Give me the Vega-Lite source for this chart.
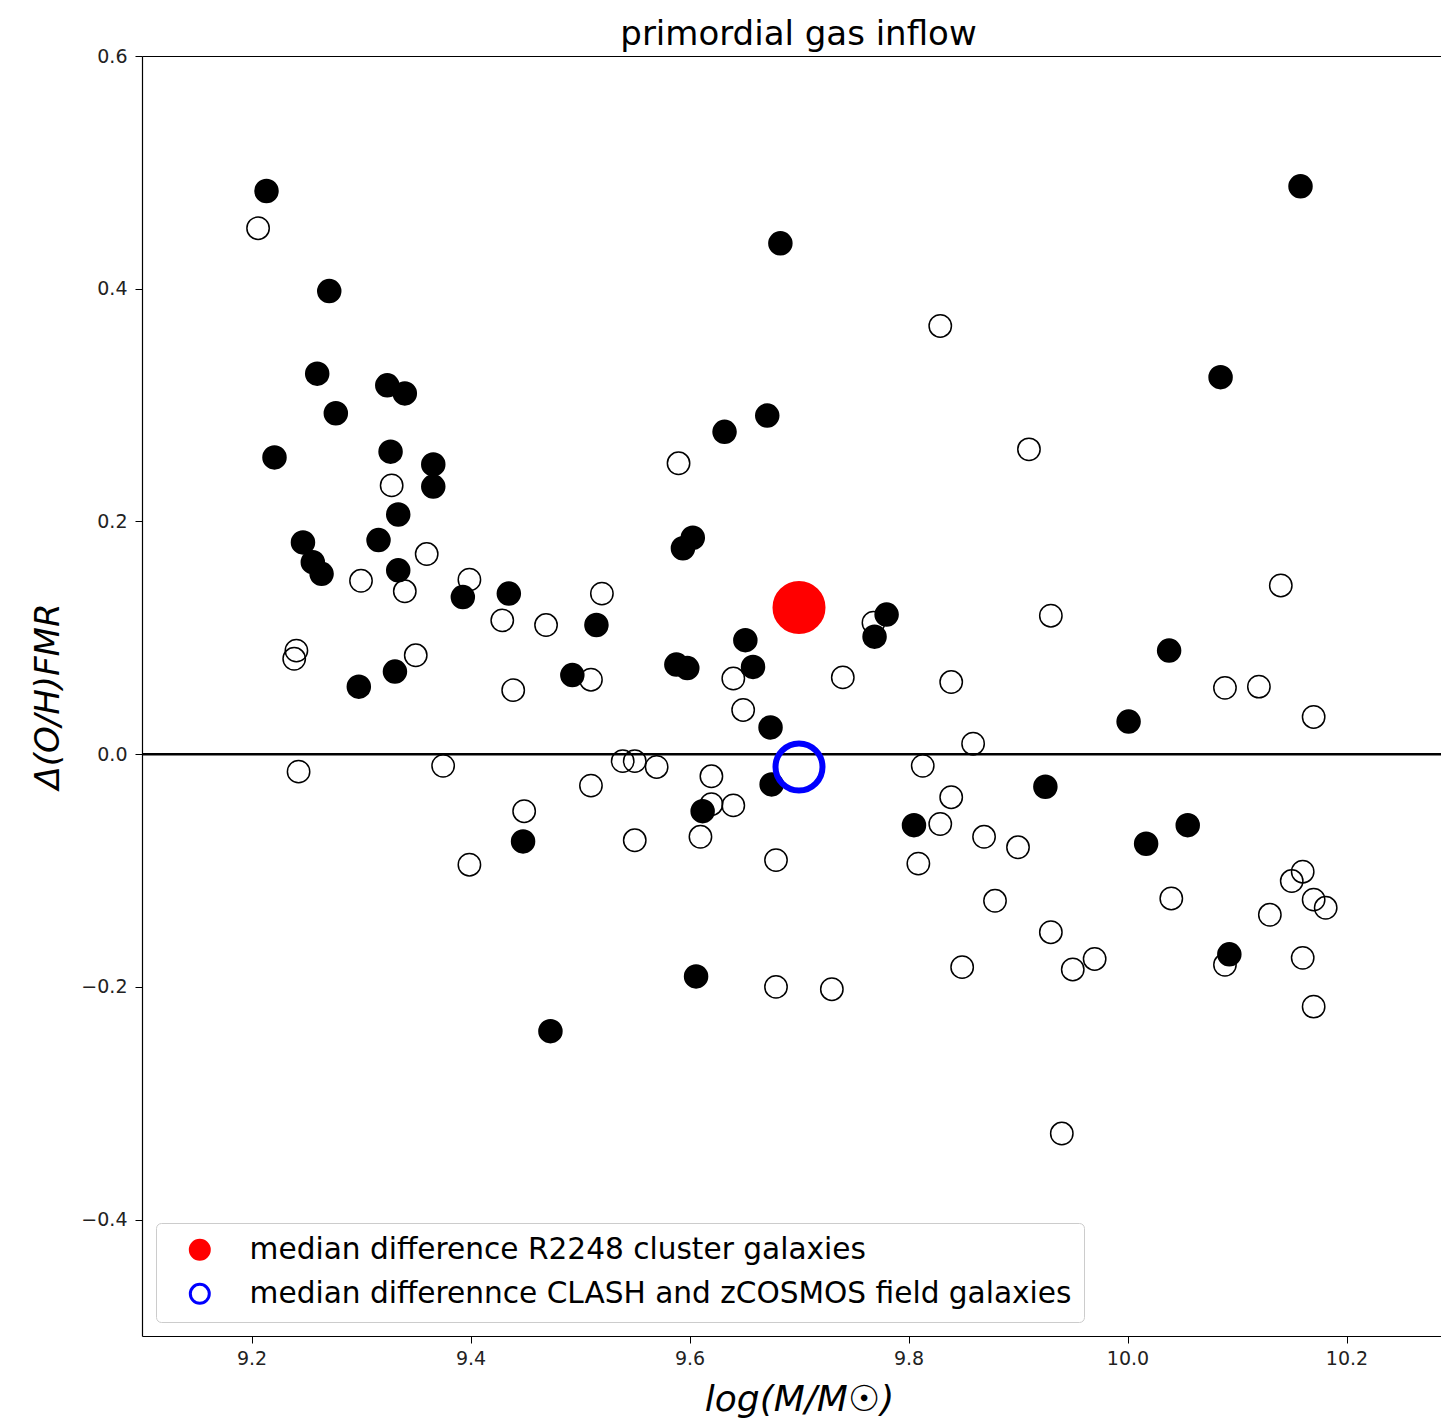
{
  "$schema": "https://vega.github.io/schema/vega-lite/v6.json",
  "autosize": {"type": "none"},
  "width": 1299,
  "height": 1280,
  "padding": {"left": 142, "top": 56, "right": 0, "bottom": 90},
  "background": "white",
  "config": {
    "font": "DejaVu Sans",
    "view": {"stroke": null},
    "axis": {
      "grid": false,
      "domainColor": "black",
      "domainWidth": 1.2,
      "tickColor": "black",
      "tickWidth": 1,
      "tickSize": 7,
      "labelFont": "DejaVu Sans",
      "labelFontSize": 19,
      "labelColor": "#222222",
      "titleFont": "DejaVu Sans",
      "titleColor": "black",
      "titleFontWeight": "normal",
      "titleFontStyle": "italic"
    },
    "legend": {
      "orient": "bottom-left",
      "offset": 14,
      "padding": 12,
      "strokeColor": "#cccccc",
      "strokeWidth": 1,
      "cornerRadius": 5,
      "fillColor": "white",
      "labelFont": "DejaVu Sans",
      "labelFontSize": 29.6,
      "labelColor": "black",
      "labelLimit": 2000,
      "symbolType": "circle",
      "symbolSize": 360,
      "symbolStrokeWidth": 3,
      "rowPadding": 12,
      "labelOffset": 35,
      "symbolOffset": 17
    }
  },
  "title": {
    "text": "primordial gas inflow",
    "fontSize": 34,
    "fontWeight": "normal",
    "font": "DejaVu Sans",
    "color": "black",
    "anchor": "middle",
    "dx": 7,
    "dy": 11,
    "offset": 6
  },
  "datasets": {
    "filled": [
      {"x": 9.2137, "y": 0.484}, {"x": 9.271, "y": 0.398}, {"x": 9.260, "y": 0.327}, {"x": 9.324, "y": 0.317},
      {"x": 9.340, "y": 0.310}, {"x": 9.277, "y": 0.293}, {"x": 9.221, "y": 0.255}, {"x": 9.327, "y": 0.260},
      {"x": 9.366, "y": 0.249}, {"x": 9.366, "y": 0.230}, {"x": 9.334, "y": 0.206}, {"x": 9.316, "y": 0.184},
      {"x": 9.247, "y": 0.182}, {"x": 9.256, "y": 0.165}, {"x": 9.264, "y": 0.155}, {"x": 9.334, "y": 0.158},
      {"x": 9.393, "y": 0.135}, {"x": 9.435, "y": 0.138}, {"x": 9.515, "y": 0.111}, {"x": 9.298, "y": 0.058},
      {"x": 9.331, "y": 0.071}, {"x": 9.493, "y": 0.068}, {"x": 9.588, "y": 0.077}, {"x": 9.598, "y": 0.074},
      {"x": 9.651, "y": 0.098}, {"x": 9.658, "y": 0.075}, {"x": 9.674, "y": 0.023}, {"x": 9.675, "y": -0.026},
      {"x": 9.612, "y": -0.049}, {"x": 9.448, "y": -0.075}, {"x": 9.606, "y": -0.191}, {"x": 9.473, "y": -0.238},
      {"x": 9.632, "y": 0.277}, {"x": 9.671, "y": 0.291}, {"x": 9.683, "y": 0.439}, {"x": 9.594, "y": 0.177},
      {"x": 9.603, "y": 0.186}, {"x": 9.780, "y": 0.120}, {"x": 9.769, "y": 0.101}, {"x": 9.805, "y": -0.061},
      {"x": 9.925, "y": -0.028}, {"x": 10.001, "y": 0.028}, {"x": 10.038, "y": 0.089}, {"x": 10.017, "y": -0.077},
      {"x": 10.055, "y": -0.061}, {"x": 10.093, "y": -0.172}, {"x": 10.085, "y": 0.324}, {"x": 10.158, "y": 0.488}
    ],
    "open": [
      {"x": 9.206, "y": 0.452}, {"x": 9.241, "y": 0.089}, {"x": 9.239, "y": 0.082}, {"x": 9.243, "y": -0.015},
      {"x": 9.300, "y": 0.149}, {"x": 9.328, "y": 0.231}, {"x": 9.340, "y": 0.140}, {"x": 9.360, "y": 0.172},
      {"x": 9.350, "y": 0.085}, {"x": 9.375, "y": -0.010}, {"x": 9.399, "y": 0.150}, {"x": 9.399, "y": -0.095},
      {"x": 9.429, "y": 0.115}, {"x": 9.439, "y": 0.055}, {"x": 9.449, "y": -0.049}, {"x": 9.469, "y": 0.111},
      {"x": 9.510, "y": 0.064}, {"x": 9.510, "y": -0.027}, {"x": 9.520, "y": 0.138}, {"x": 9.539, "y": -0.006},
      {"x": 9.550, "y": -0.006}, {"x": 9.550, "y": -0.074}, {"x": 9.570, "y": -0.011}, {"x": 9.590, "y": 0.250},
      {"x": 9.620, "y": -0.019}, {"x": 9.620, "y": -0.043}, {"x": 9.640, "y": -0.044}, {"x": 9.610, "y": -0.071},
      {"x": 9.640, "y": 0.065}, {"x": 9.649, "y": 0.038}, {"x": 9.679, "y": -0.091}, {"x": 9.679, "y": -0.200},
      {"x": 9.730, "y": -0.202}, {"x": 9.740, "y": 0.066}, {"x": 9.768, "y": 0.113}, {"x": 9.829, "y": 0.368},
      {"x": 9.839, "y": 0.062}, {"x": 9.813, "y": -0.010}, {"x": 9.809, "y": -0.094}, {"x": 9.829, "y": -0.060},
      {"x": 9.839, "y": -0.037}, {"x": 9.859, "y": 0.009}, {"x": 9.869, "y": -0.071}, {"x": 9.879, "y": -0.126},
      {"x": 9.849, "y": -0.183}, {"x": 9.900, "y": -0.080}, {"x": 9.910, "y": 0.262}, {"x": 9.930, "y": 0.119},
      {"x": 9.930, "y": -0.153}, {"x": 9.950, "y": -0.185}, {"x": 9.970, "y": -0.176}, {"x": 9.940, "y": -0.326},
      {"x": 10.040, "y": -0.124}, {"x": 10.089, "y": 0.057}, {"x": 10.120, "y": 0.058}, {"x": 10.089, "y": -0.181},
      {"x": 10.140, "y": 0.145}, {"x": 10.170, "y": 0.032}, {"x": 10.130, "y": -0.138}, {"x": 10.150, "y": -0.109},
      {"x": 10.160, "y": -0.101}, {"x": 10.170, "y": -0.125}, {"x": 10.181, "y": -0.132}, {"x": 10.160, "y": -0.175},
      {"x": 10.170, "y": -0.217}
    ],
    "medians": [
      {"x": 9.7, "y": 0.126, "series": "\u00a0median difference R2248 cluster galaxies"},
      {"x": 9.7, "y": -0.011, "series": "median differennce CLASH and zCOSMOS field galaxies"}
    ],
    "zero": [{"y": 0}]
  },
  "resolve": {"axis": {"x": "independent"}},
  "layer": [
    {
      "data": {"name": "zero"},
      "mark": {"type": "rule", "color": "black", "strokeWidth": 2.5},
      "encoding": {
        "y": {"field": "y", "type": "quantitative", "scale": {"domain": [-0.5, 0.6], "nice": false, "zero": false},
          "axis": {"values": [-0.4, -0.2, 0, 0.2, 0.4, 0.6], "format": ".1f", "title": "Δ(O/H)FMR", "titleFontSize": 34, "titlePadding": 15, "labelPadding": 8}}
      }
    },
    {
      "data": {"name": "open"},
      "mark": {"type": "point", "shape": "circle", "filled": false, "stroke": "black", "strokeWidth": 1.5, "size": 500, "opacity": 1},
      "encoding": {
        "x": {"field": "x", "type": "quantitative", "scale": {"domain": [9.1, 10.2863], "nice": false, "zero": false},
          "axis": {"orient": "bottom", "values": [9.2, 9.4, 9.6, 9.8, 10.0, 10.2], "format": ".1f", "title": "log(M/M☉)", "titleFontSize": 36, "titlePadding": 14, "titleX": 657, "labelPadding": 6}},
        "y": {"field": "y", "type": "quantitative"}
      }
    },
    {
      "data": {"name": "filled"},
      "mark": {"type": "circle", "color": "black", "size": 600, "opacity": 1},
      "encoding": {
        "x": {"field": "x", "type": "quantitative",
          "axis": {"orient": "top", "labels": false, "ticks": false, "title": null, "domain": true}},
        "y": {"field": "y", "type": "quantitative"}
      }
    },
    {
      "data": {"name": "medians"},
      "mark": {"type": "point", "shape": "circle", "strokeWidth": 6, "size": 2209, "opacity": 1},
      "encoding": {
        "x": {"field": "x", "type": "quantitative", "axis": null},
        "y": {"field": "y", "type": "quantitative"},
        "fill": {"field": "series", "type": "nominal",
          "scale": {"domain": ["\u00a0median difference R2248 cluster galaxies", "median differennce CLASH and zCOSMOS field galaxies"], "range": ["red", "transparent"]},
          "legend": {"title": null}},
        "stroke": {"field": "series", "type": "nominal",
          "scale": {"domain": ["\u00a0median difference R2248 cluster galaxies", "median differennce CLASH and zCOSMOS field galaxies"], "range": ["red", "blue"]},
          "legend": {"title": null}}
      }
    }
  ]
}
